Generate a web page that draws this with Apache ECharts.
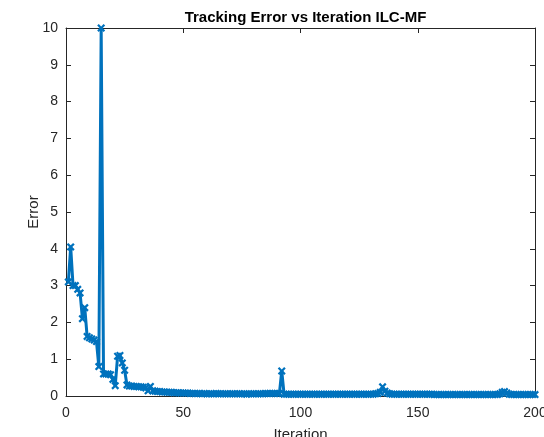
<!DOCTYPE html>
<html>
<head>
<meta charset="utf-8">
<script src="https://cdn.jsdelivr.net/npm/echarts@6/dist/echarts.min.js"></script>
<style>html,body{margin:0;padding:0;background:#fff}#c{width:544px;height:437px}</style>
</head>
<body>
<div id="c"></div>
<script>
var titleText = 'Tracking Error vs Iteration ILC-MF';
var xName = 'Iteration';
var yName = 'Error';
var xTicks = [0, 50, 100, 150, 200];
var yTicks = [0, 1, 2, 3, 4, 5, 6, 7, 8, 9, 10];
var errors = [
  3.1, 4.05, 3.0, 3.0, 2.9, 2.8, 2.1, 2.4, 1.62, 1.58,
  1.55, 1.52, 1.48, 0.8, 10, 0.6, 0.6, 0.6, 0.58, 0.45,
  0.28, 1.08, 1.1, 0.9, 0.7, 0.3, 0.27, 0.27, 0.26, 0.26,
  0.25, 0.25, 0.24, 0.22, 0.14, 0.26, 0.14, 0.13, 0.12, 0.12,
  0.11, 0.11, 0.1, 0.1, 0.1, 0.09, 0.09, 0.09, 0.08, 0.08,
  0.08, 0.08, 0.07, 0.07, 0.07, 0.07, 0.07, 0.06, 0.07, 0.06,
  0.06, 0.06, 0.06, 0.07, 0.06, 0.06, 0.06, 0.06, 0.06, 0.06,
  0.06, 0.06, 0.06, 0.06, 0.06, 0.06, 0.05, 0.06, 0.06, 0.06,
  0.06, 0.06, 0.06, 0.06, 0.07, 0.07, 0.07, 0.07, 0.07, 0.07,
  0.07, 0.68, 0.05, 0.05, 0.05, 0.05, 0.05, 0.05, 0.05, 0.05,
  0.05, 0.05, 0.05, 0.05, 0.05, 0.05, 0.05, 0.05, 0.05, 0.05,
  0.05, 0.05, 0.05, 0.05, 0.05, 0.05, 0.05, 0.05, 0.05, 0.05,
  0.05, 0.05, 0.05, 0.05, 0.05, 0.05, 0.05, 0.05, 0.05, 0.05,
  0.05, 0.06, 0.07, 0.1, 0.25, 0.13, 0.08, 0.06, 0.05, 0.05,
  0.05, 0.05, 0.05, 0.05, 0.05, 0.05, 0.05, 0.05, 0.05, 0.05,
  0.05, 0.05, 0.05, 0.05, 0.05, 0.05, 0.04, 0.04, 0.04, 0.04,
  0.04, 0.04, 0.04, 0.04, 0.04, 0.04, 0.04, 0.04, 0.04, 0.04,
  0.04, 0.04, 0.04, 0.04, 0.04, 0.04, 0.04, 0.04, 0.04, 0.04,
  0.04, 0.04, 0.04, 0.04, 0.06, 0.1, 0.12, 0.08, 0.05, 0.04,
  0.04, 0.04, 0.04, 0.04, 0.04, 0.04, 0.04, 0.04, 0.04, 0.04
];
var iterations = errors.map(function (_, i) { return i + 1; });
var seriesData = iterations.map(function (it, i) { return [it, errors[i]]; });

var axisColor = '#262626';
var font = '"Liberation Sans", Arial, Helvetica, sans-serif';
var xMark = 'path://M0,2L2,0L5,3L8,0L10,2L7,5L10,8L8,10L5,7L2,10L0,8L3,5Z';

var chart = echarts.init(document.getElementById('c'), null, {renderer: 'canvas'});
function mkAxis(extra) {
  return Object.assign({
    axisLine: {show: true, onZero: false, lineStyle: {color: axisColor, width: 1}},
    axisTick: {show: true, inside: true, length: 5, lineStyle: {color: axisColor, width: 1}},
    splitLine: {show: false}
  }, extra);
}
chart.setOption({
  backgroundColor: '#ffffff',
  animation: false,
  title: {
    text: titleText, left: 300.5, textAlign: 'center', top: 5,
    textStyle: {fontFamily: font, fontSize: 15, fontWeight: 'bold', color: '#000'}
  },
  grid: {left: 66, right: 9, top: 28, bottom: 41, containLabel: false, outerBoundsMode: 'none'},
  xAxis: [
    mkAxis({
      type: 'value', min: 0, max: 200, interval: 50, position: 'bottom',
      name: xName, nameLocation: 'middle', nameGap: 31, nameMoveOverlap: false,
      nameTextStyle: {fontFamily: font, fontSize: 15, color: axisColor},
      axisLabel: {fontFamily: font, fontSize: 14, color: axisColor, margin: 10,
        formatter: function (v) { return xTicks.indexOf(v) >= 0 ? String(v) : ''; }}
    }),
    mkAxis({
      type: 'value', min: 0, max: 200, interval: 50, position: 'top',
      axisLabel: {show: false}
    })
  ],
  yAxis: [
    mkAxis({
      type: 'value', min: 0, max: 10, interval: 1, position: 'left',
      name: yName, nameLocation: 'middle', nameGap: 25, nameRotate: 90, nameMoveOverlap: false,
      nameTextStyle: {fontFamily: font, fontSize: 15, color: axisColor},
      axisLabel: {fontFamily: font, fontSize: 14, color: axisColor, margin: 8,
        formatter: function (v) { return yTicks.indexOf(v) >= 0 ? String(v) : ''; }}
    }),
    mkAxis({
      type: 'value', min: 0, max: 10, interval: 1, position: 'right',
      axisLabel: {show: false}
    })
  ],
  series: [{
    type: 'line',
    xAxisIndex: 0, yAxisIndex: 0,
    data: seriesData,
    symbol: xMark,
    symbolSize: 8,
    showAllSymbol: true,
    clip: false,
    lineStyle: {color: '#0072BD', width: 3},
    itemStyle: {color: '#0072BD'},
    emphasis: {disabled: true}
  }]
});
</script>
</body>
</html>
